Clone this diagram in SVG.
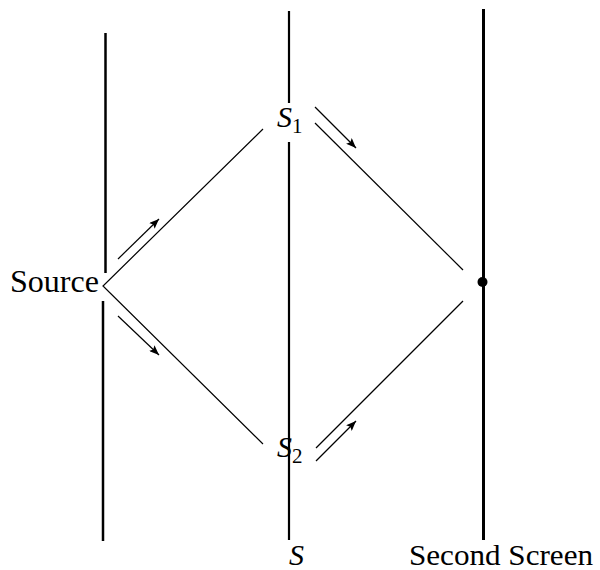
<svg xmlns="http://www.w3.org/2000/svg" width="600" height="570" viewBox="0 0 600 570">
<style>
.scr{stroke:#000;fill:none}
.ray{stroke:#000;stroke-width:1.2;fill:none}
.arr{stroke:#000;stroke-width:1.2;fill:none;marker-end:url(#ah)}
.t{font-family:"Liberation Serif","DejaVu Serif",serif;fill:#000}
.i{font-style:italic}
</style>
<defs>
<marker id="ah" viewBox="0 0 10 8" refX="10" refY="4" markerWidth="10" markerHeight="8" markerUnits="userSpaceOnUse" orient="auto">
<path d="M0,0 L10,4 L0,8 L2,4 Z" fill="#000"/>
</marker>
</defs>
<g id="first-screen">
<line class="scr" stroke-width="2.5" x1="105.5" y1="33" x2="105.5" y2="273"/>
<line class="scr" stroke-width="2.5" x1="103" y1="301" x2="103" y2="541"/>
</g>
<g id="screen-S">
<line class="scr" stroke-width="2.2" x1="289" y1="11" x2="289" y2="103"/>
<line class="scr" stroke-width="2.2" x1="289" y1="142" x2="289" y2="540"/>
</g>
<g id="second-screen">
<line class="scr" stroke-width="3" x1="483.5" y1="9" x2="483.5" y2="540"/>
<circle cx="482.5" cy="282" r="5" fill="#000"/>
</g>
<g id="connectors">
<polyline class="ray" points="263,129 103,286 263,444"/>
<line class="ray" x1="315" y1="123" x2="463" y2="270"/>
<line class="ray" x1="463" y1="301" x2="316" y2="448"/>
<line class="arr" x1="118" y1="259" x2="159" y2="219"/>
<line class="arr" x1="118" y1="316" x2="159" y2="355"/>
<line class="arr" x1="315" y1="107" x2="356" y2="148"/>
<line class="arr" x1="316" y1="461" x2="356" y2="421"/>
</g>
<g id="source-label"><text class="t" x="10" y="292" font-size="31" textLength="89" lengthAdjust="spacingAndGlyphs">Source</text></g>
<g id="S1-label"><text class="t" x="277" y="127" font-size="30"><tspan class="i">S</tspan><tspan font-size="21" dy="6">1</tspan></text></g>
<g id="S2-label"><text class="t" x="277" y="457" font-size="30"><tspan class="i">S</tspan><tspan font-size="21" dy="6">2</tspan></text></g>
<g id="S-label"><text class="t i" x="289" y="565" font-size="30">S</text></g>
<g id="second-screen-label"><text class="t" x="409" y="565" font-size="30" textLength="184" lengthAdjust="spacingAndGlyphs">Second Screen</text></g>
</svg>
